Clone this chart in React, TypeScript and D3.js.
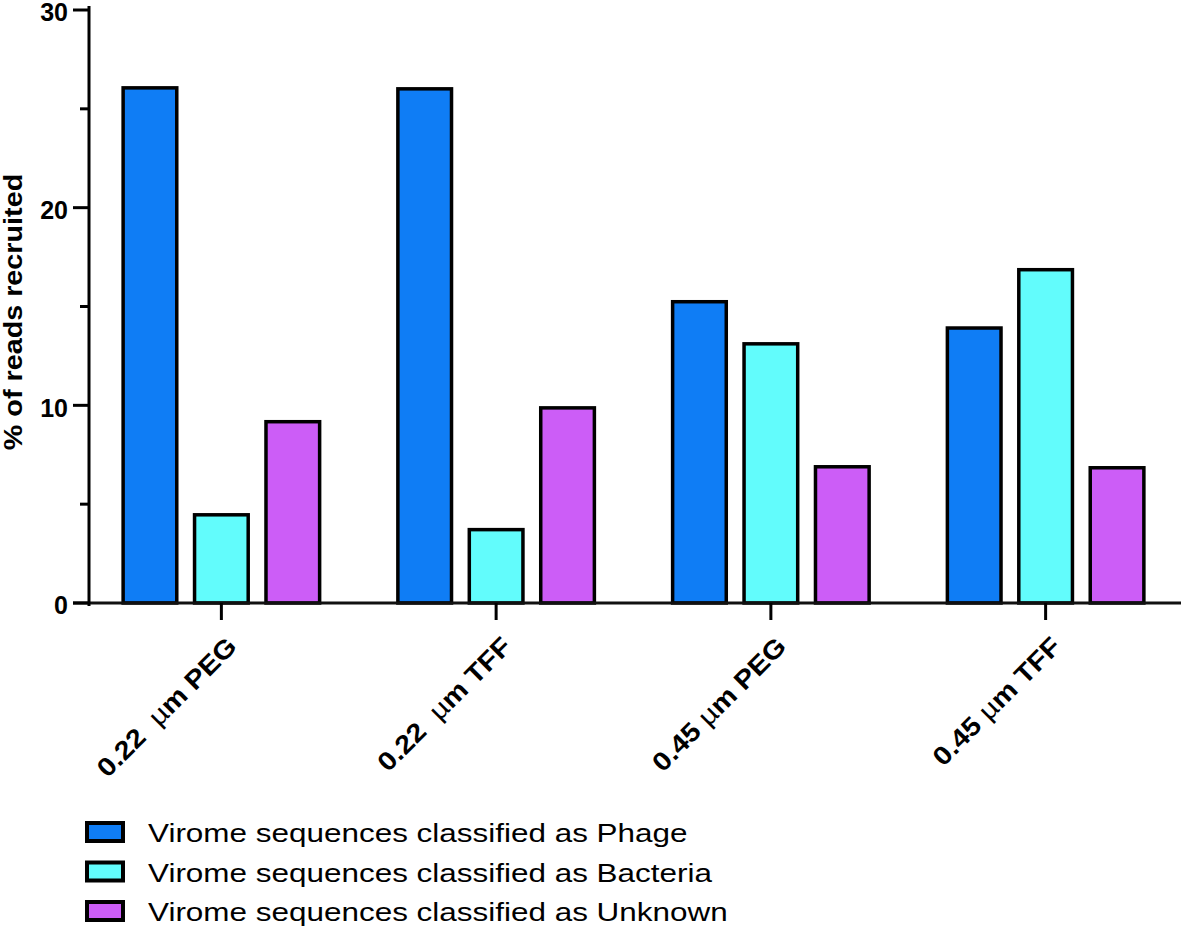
import React from "react";
import * as d3 from "d3";

const categories = ["0.22  µm PEG", "0.22  µm TFF", "0.45 µm PEG", "0.45 µm TFF"];
const labelParts = [
  ["0.22  ", "µ", "m PEG"],
  ["0.22  ", "µ", "m TFF"],
  ["0.45 ", "µ", "m PEG"],
  ["0.45 ", "µ", "m TFF"],
];
const seriesNames = [
  "Virome sequences classified as Phage",
  "Virome sequences classified as Bacteria",
  "Virome sequences classified as Unknown",
];
const phage = [26.15, 26.1, 15.33, 14.0];
const bacteria = [4.55, 3.8, 13.2, 16.95];
const unknown = [9.26, 9.96, 6.98, 6.93];
const seriesColors = ["#0f7df5", "#62fcfc", "#cc5df7"];
const majorTicks = [0, 10, 20, 30];
const minorTicks = [5, 15, 25];
const yTitle = "% of reads recruited";

const FONT = "'Liberation Sans', Arial, Helvetica, sans-serif";

export default function App() {
  const W = 1181;
  const H = 928;
  const y = d3.scaleLinear().domain([0, 30]).range([603, 10]);
  const x0 = d3.scaleBand<string>().domain(categories).range([84, 1183]).padding(0);
  const x1 = d3.scaleBand<number>().domain([0, 1, 2]).range([-100, 100]).paddingInner(0.2).paddingOuter(0);
  const values = [phage, bacteria, unknown];
  const axisX = 89;
  const sw = 3.5;

  return (
    <svg width={W} height={H} style={{ display: "block", position: "absolute", left: 0, top: 0 }} fontFamily={FONT}>
      <rect width={W} height={H} fill="#fff" />
      {/* bars */}
      {categories.map((c, ci) => {
        const cx = (x0(c) as number) + x0.bandwidth() / 2;
        return (
          <g key={c} transform={`translate(${cx},0)`}>
            {values.map((vals, si) => {
              const bx = x1(si) as number;
              const top = y(vals[ci]);
              return (
                <rect
                  key={si}
                  x={bx + sw / 2}
                  y={top + sw / 2}
                  width={x1.bandwidth() - sw}
                  height={y(0) - top - sw / 2}
                  fill={seriesColors[si]}
                  stroke="#000"
                  strokeWidth={sw}
                />
              );
            })}
          </g>
        );
      })}
      {/* x axis */}
      <line x1={73} x2={1181} y1={y(0)} y2={y(0)} stroke="#111" strokeWidth={3} />
      {categories.map((c) => {
        const cx = (x0(c) as number) + x0.bandwidth() / 2;
        return <line key={c} x1={cx} x2={cx} y1={y(0)} y2={620} stroke="#000" strokeWidth={3} />;
      })}
      {categories.map((c, ci) => {
        const cx = (x0(c) as number) + x0.bandwidth() / 2;
        const p = labelParts[ci];
        return (
          <text
            key={c}
            transform={`translate(${cx + 17},648) rotate(-45) scale(1.12,1)`}
            textAnchor="end"
            fontSize={26}
            fontWeight="bold"
            fill="#000"
            style={{ whiteSpace: "pre" }}
          >
            <tspan>{p[0]}</tspan>
            <tspan fontWeight="normal">{p[1]}</tspan>
            <tspan>{p[2]}</tspan>
          </text>
        );
      })}
      {/* y axis */}
      <line x1={axisX} x2={axisX} y1={6} y2={606} stroke="#000" strokeWidth={3} />
      {majorTicks.map((t) => (
        <g key={t}>
          <line x1={73} x2={axisX} y1={y(t)} y2={y(t)} stroke="#000" strokeWidth={3} />
          <text x={68} y={y(t)} dy="0.45em" textAnchor="end" fontSize={25} fontWeight="bold" fill="#000">
            {t}
          </text>
        </g>
      ))}
      {minorTicks.map((t) => (
        <line key={t} x1={80} x2={axisX} y1={y(t)} y2={y(t)} stroke="#000" strokeWidth={3} />
      ))}
      <text
        transform={`translate(22,312) rotate(-90) scale(1.15,1)`}
        textAnchor="middle"
        fontSize={25}
        fontWeight="bold"
        fill="#000"
      >
        {yTitle}
      </text>
      {/* legend */}
      {seriesNames.map((s, i) => {
        const ly = 832 + i * 39.5;
        return (
          <g key={s}>
            <rect x={87} y={ly - 9} width={36} height={18} fill={seriesColors[i]} stroke="#000" strokeWidth={4} />
            <text transform={`translate(148,${ly + 10}) scale(1.21,1)`} fontSize={26} fill="#000">
              {s}
            </text>
          </g>
        );
      })}
    </svg>
  );
}
